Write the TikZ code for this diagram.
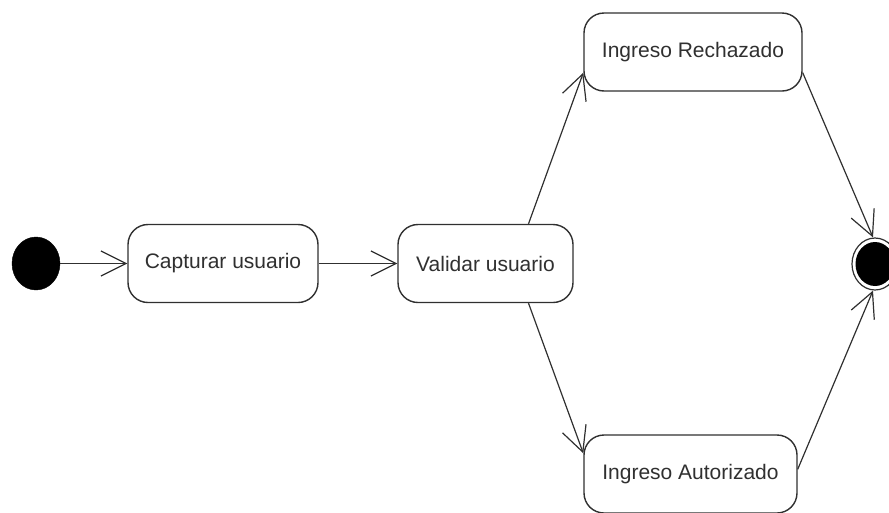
\documentclass[tikz,border=0pt]{standalone}
\usepackage{fontspec}
\setmainfont{Liberation Sans}
\usetikzlibrary{arrows.meta,calc,shapes.geometric}
\definecolor{ink}{HTML}{303030}
\begin{document}
\begin{tikzpicture}[x=1pt,y=-1pt,
  activity/.style={draw=ink, line width=1.4pt, rounded corners=20pt, fill=white,
    minimum height=78pt, inner sep=0pt, text=ink,
    font=\fontsize{21}{25}\selectfont},
  flow/.style={draw=ink, line width=1.2pt,
    -{Straight Barb[length=25pt,width=25pt,line width=1.2pt]}}]
\useasboundingbox (0,0) rectangle (889,512);
% initial state
\node[ellipse, fill=black, draw=black, minimum width=48pt, minimum height=53pt, inner sep=0pt] (ini) at (36,263.5) {};
% activities
\node[activity, minimum width=190pt] (cap) at (223,263.5) {Capturar usuario};
\node[activity, minimum width=175pt] (val) at (485.5,263.5) {Validar usuario};
\node[activity, minimum width=218pt] (rech) at (693,52) {Ingreso Rechazado};
\node[activity, minimum width=213pt] (aut) at (690.5,474) {Ingreso Autorizado};
% final state
\node[ellipse, draw=ink, line width=1.2pt, minimum width=46pt, minimum height=52pt, inner sep=0pt] (fin) at (875,264) {};
\fill[black] (fin.center) ellipse (19.5 and 22);
% connection points
\coordinate (vtop) at ($(val.north)+(43,0)$);
\coordinate (vbot) at ($(val.south)+(43,0)$);
\coordinate (rin) at ($(rech.south west)+(0,-19)$);
\coordinate (rout) at ($(rech.south east)+(0,-19)$);
\coordinate (ain) at ($(aut.north west)+(0,19)$);
\coordinate (aout) at ($(aut.north east)+(0,35)$);
\coordinate (ftop) at ($(fin.north)+(-2,0)$);
\coordinate (fbot) at ($(fin.south)+(-2,0)$);
% transitions
\draw[flow] (ini.east) -- (cap.west);
\draw[flow] (cap.east) -- (val.west);
\draw[flow] (vtop) -- (rin);
\draw[flow] (vbot) -- (ain);
\draw[flow] (rout) -- (ftop);
\draw[flow] (aout) -- (fbot);
\end{tikzpicture}
\end{document}
